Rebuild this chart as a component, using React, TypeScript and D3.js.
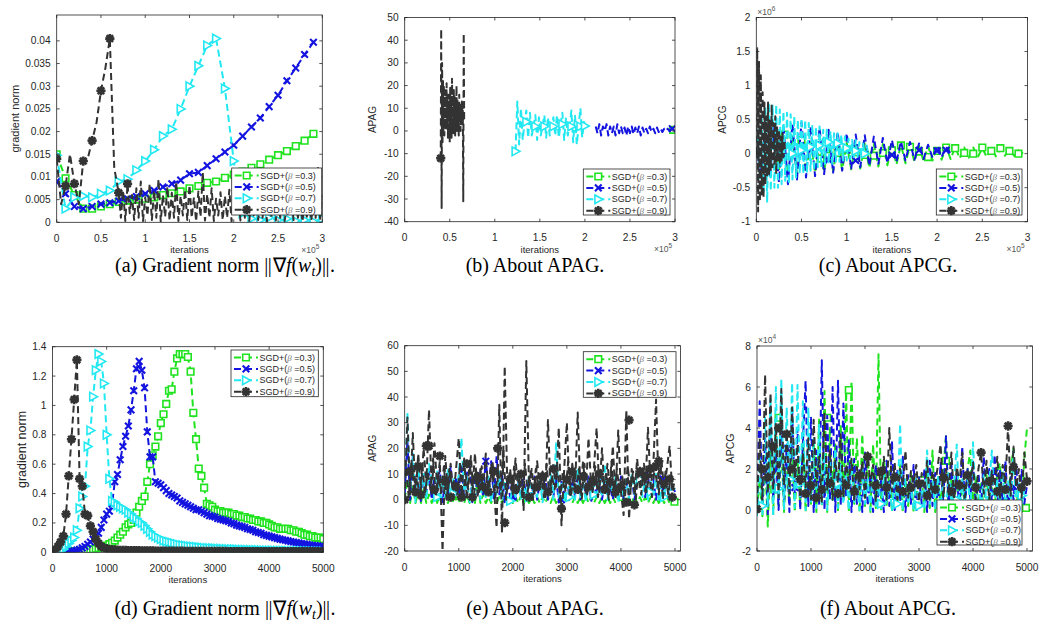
import { useEffect, useRef } from 'react';
import * as d3 from 'd3';

const W = 1039;
const H = 626;

// ---------- data ----------
const betaLabels = ['0.3', '0.5', '0.7', '0.9'];

// tick labels
const xTicksTop = [0, 0.5, 1, 1.5, 2, 2.5, 3];
const xTicksBottom = [0, 1000, 2000, 3000, 4000, 5000];
const aYTicks = [0, 0.005, 0.01, 0.015, 0.02, 0.025, 0.03, 0.035, 0.04];
const bYTicks = [-40, -30, -20, -10, 0, 10, 20, 30, 40, 50];
const cYTicks = [-1, -0.5, 0, 0.5, 1, 1.5, 2];
const dYTicks = [0, 0.2, 0.4, 0.6, 0.8, 1, 1.2, 1.4];
const eYTicks = [-20, -10, 0, 10, 20, 30, 40, 50, 60];
const fYTicks = [-2, 0, 2, 4, 6, 8];

// (a) gradient norm, iterations x1e5
const aGreen = [0.015, 0.0097, 0.006, 0.003, 0.003, 0.0035, 0.004, 0.0045, 0.0048, 0.005,
  0.0052, 0.0055, 0.006, 0.0064, 0.0068, 0.0075, 0.008, 0.0087, 0.009, 0.0098,
  0.0105, 0.0112, 0.012, 0.0128, 0.0138, 0.0148, 0.0157, 0.0168, 0.018, 0.0195];
const aBlue = [0.009, 0.0063, 0.0035, 0.003, 0.0035, 0.004, 0.0043, 0.0047, 0.0052, 0.0057,
  0.0063, 0.007, 0.0078, 0.0085, 0.0093, 0.0107, 0.011, 0.0125, 0.014, 0.0155,
  0.017, 0.019, 0.021, 0.023, 0.0255, 0.028, 0.0312, 0.034, 0.037, 0.0397];
const aCyan = [0.0148, 0.003, 0.0055, 0.0058, 0.0055, 0.0063, 0.007, 0.009, 0.0095, 0.0115,
  0.0135, 0.016, 0.019, 0.0205, 0.025, 0.03, 0.0345, 0.039, 0.0405, 0.0295,
  0.0135, 0.002, 0.0008, 0.0005, 0.001, 0.0005, 0.0008, 0.0003, 0.0005, 0.0002, 0.0008];
// beta = 0.9: first part every 0.05, noisy tail from 0.7 every 0.025
const aDark = [0.014, 0.004, 0.008, 0.015, 0.0085, 0.004, 0.0135, 0.014, 0.018, 0.022,
  0.029, 0.034, 0.0405, 0.012, 0.0065];
const aDarkTail = [0.0065, 0.001, 0.007, 0.0003, 0.0085, 0.002, 0.006, 0.0005, 0.0075, 0.001,
  0.009, 0.0003, 0.0055, 0.0015, 0.0085, 0.0005, 0.007, 0.001, 0.0095, 0.0002,
  0.006, 0.0012, 0.0078, 0.0004, 0.0065, 0.001, 0.009, 0.0003, 0.0058, 0.0015,
  0.0072, 0.0005, 0.0082, 0.001, 0.0055, 0.0002, 0.0068, 0.0012, 0.011, 0.0004,
  0.0062, 0.001, 0.0075, 0.0003, 0.0052, 0.0015, 0.0066, 0.0005, 0.0058, 0.001,
  0.0072, 0.0002, 0.0048, 0.0012, 0.0065, 0.0004, 0.0055, 0.001, 0.0062, 0.0003,
  0.0045, 0.0015, 0.006, 0.0005, 0.0042, 0.001, 0.0058, 0.0002, 0.0038, 0.0012,
  0.0108, 0.0004, 0.0045, 0.001, 0.0052, 0.0003, 0.004, 0.0015, 0.0055, 0.0005,
  0.0042, 0.001, 0.0048, 0.0002, 0.0038, 0.0012, 0.005, 0.0004, 0.0045, 0.001,
  0.0125, 0.0003, 0.006];
const aDarkMarks = [[0, 0.014], [0.1, 0.008], [0.2, 0.0085], [0.3, 0.0135], [0.4, 0.018],
  [0.5, 0.029], [0.6, 0.0405], [0.7, 0.0065], [0.8, 0.0085]];

// (b) APAG, iterations x1e5
const bGreen = [0.5, 0.3];
const bBlue = [2, -1, 3, -2, 2, 0, 3, -2, 2, -1,
  2, -2, 3, -1, 2, -1, 1.5, -2, 2, -1,
  2, -1.5, 1.5, -1, 2, -2, 1.5, -1, 1, -1,
  2, -0.5, 1, -1, 1.5, -0.5, 1, -0.5, 1, 0,
  1, 0, 1, 1];
const bCyan = [-9, 13, -6, 10, -4, 4, 9, -3, 8, -2,
  2, 7, -4, 6, -2, 2, 7, -3, 6, -2,
  2, 6, -2, 7, -3, 3, 8, -4, 6, -2,
  2, 9, -5, 7, -6, 2, 10, -3, 4, 2];
const bDark = [-12, 45, -34, 30, -5, 22, 0, 20, -2, 18,
  3, 17, 0, 21, 2, 15, -3, 16, 5, 12,
  -5, 19, 2, 14, -3, 23, 4, 13, -1, 18,
  3, 15, -2, 12, 4, 20, 0, 14, 3, 11,
  -2, 16, 5, 12, 0, 10, 4, 13, 2, 9,
  -31, 43, 5];
const bGreenMarks = [[2.98, 0.5]];
const bBlueMarks = [[2.97, 1]];
const bCyanMarks = [[1.23, -9], [1.35, 4], [1.45, 2], [1.55, 2], [1.65, 2], [1.75, 3], [1.85, 2], [1.95, 2], [2.0, 2.2]];
const bDarkMarks = [[0.4, -12]];

// (c) APCG x1e6, iterations x1e5
const cGreen = [0.05, -0.15, 0.2, -0.2, 0.25, -0.25, 0.28, -0.28, 0.25, -0.3,
  0.22, -0.28, 0.2, -0.28, 0.2, -0.27, 0.18, -0.26, 0.17, -0.24,
  0.16, -0.23, 0.15, -0.22, 0.15, -0.21, 0.14, -0.19, 0.14, -0.17,
  0.13, -0.16, 0.13, -0.14, 0.12, -0.12, 0.12, -0.11, 0.11, -0.1,
  0.11, -0.09, 0.1, -0.08, 0.1, -0.07, 0.09, -0.06, 0.09, -0.05,
  0.08, -0.05, 0.08, -0.04, 0.07, -0.03, 0.06, -0.03, 0.05, 0.0];
const cBlue = [0.1, -0.3, 0.35, -0.35, 0.4, -0.42, 0.42, -0.45, 0.45, -0.38,
  0.46, -0.35, 0.4, -0.33, 0.38, -0.3, 0.35, -0.28, 0.32, -0.25,
  0.3, -0.22, 0.28, -0.2, 0.27, -0.18, 0.25, -0.15, 0.23, -0.14,
  0.2, -0.12, 0.18, -0.1, 0.17, -0.09, 0.15, -0.08, 0.13, -0.06,
  0.12, -0.05, 0.1, 0.0];
const cCyan = [0.0, 0.35, -0.4, 0.55, -0.6, 0.7, -0.72, 0.75, -0.55, 0.72,
  -0.5, 0.72, -0.5, 0.65, -0.45, 0.62, -0.4, 0.6, -0.45, 0.58,
  -0.38, 0.55, -0.35, 0.5, -0.3, 0.52, -0.3, 0.5, -0.28, 0.45,
  -0.25, 0.42, -0.25, 0.4, -0.2, 0.4, -0.2, 0.35, -0.15, 0.35,
  -0.15, 0.33, -0.15, 0.3, -0.12, 0.3, -0.12, 0.28, -0.1, 0.25,
  -0.1, 0.22, -0.08, 0.2, -0.08, 0.2, -0.05, 0.17, -0.05, 0.15,
  -0.03, 0.12, 0.0];
const cDark = [0, 1.55, -0.85, 1.35, -0.7, 1.15, -0.6, 0.9, -0.65, 0.75,
  -0.45, 0.55, -0.35, 0.75, -0.3, 0.5, -0.25, 0.72, -0.2, 0.45,
  -0.15, 0.55, -0.3, 0.4, -0.1, 0.35, -0.15, 0.25, -0.1, 0.3,
  -0.05, 0.2, 0];
const cGreenMarks = [[0.31, 0.28], [0.5, 0.2], [0.71, -0.07], [0.8, -0.03], [0.9, 0.01], [1.0, 0.06],
  [1.1, 0.02], [1.2, -0.02], [1.3, -0.03], [1.4, 0.01], [1.5, 0.05], [1.6, 0.12], [1.7, 0.1],
  [1.8, 0.03], [1.9, -0.05], [2.0, 0.04], [2.1, 0.09], [2.2, 0.08], [2.3, 0.01], [2.4, 0.0],
  [2.5, 0.09], [2.6, 0.04], [2.7, 0.08], [2.8, 0.04], [2.9, 0.0]];
const cBlueMarks = [[0.3, -0.05], [0.5, 0.0], [0.6, 0.05], [0.8, -0.09], [1.1, -0.1], [1.5, -0.02],
  [1.8, 0.05], [2.0, 0.04], [2.1, 0.05]];
const cCyanMarks = [[0.05, 0.0], [0.2, 0.02], [0.3, 0.1], [0.4, 0.0], [0.5, 0.05], [0.6, 0.1],
  [0.7, 0.12], [0.8, 0.17], [0.9, 0.15], [1.0, 0.08], [1.1, 0.04], [1.2, 0.0]];
const cDarkMarks = [[0, 0]];

// (d) gradient norm, every 50 iterations from 0 to 5000
const dGreen = [0, 0, 0, 0, 0, 0.002, 0.003, 0.004, 0.005, 0.006,
  0.008, 0.01, 0.012, 0.015, 0.018, 0.02, 0.025, 0.03, 0.035, 0.04,
  0.045, 0.055, 0.065, 0.08, 0.1, 0.12, 0.14, 0.17, 0.19, 0.2,
  0.22, 0.27, 0.31, 0.35, 0.38, 0.48, 0.6, 0.66, 0.72, 0.79,
  0.88, 0.94, 1.01, 1.1, 1.11, 1.23, 1.32, 1.35, 1.35, 1.35,
  1.33, 1.23, 0.95, 0.77, 0.57, 0.52, 0.44, 0.33, 0.32, 0.31,
  0.29, 0.28, 0.28, 0.27, 0.27, 0.27, 0.26, 0.26, 0.25, 0.25,
  0.24, 0.24, 0.23, 0.23, 0.22, 0.22, 0.21, 0.21, 0.2, 0.2,
  0.19, 0.18, 0.17, 0.17, 0.16, 0.16, 0.16, 0.16, 0.15, 0.15,
  0.14, 0.14, 0.13, 0.12, 0.12, 0.11, 0.11, 0.1, 0.1, 0.1,
  0.09];
const dBlue = [0, 0, 0, 0, 0.002, 0.004, 0.006, 0.008, 0.01, 0.015,
  0.02, 0.03, 0.04, 0.055, 0.07, 0.09, 0.11, 0.13, 0.17, 0.22,
  0.26, 0.28, 0.33, 0.48, 0.53, 0.63, 0.72, 0.79, 0.86, 0.97,
  1.1, 1.25, 1.3, 1.24, 1.12, 0.82, 0.65, 0.65, 0.48, 0.47,
  0.46, 0.44, 0.42, 0.4, 0.39, 0.38, 0.37, 0.35, 0.34, 0.33,
  0.32, 0.31, 0.3, 0.29, 0.29, 0.28, 0.27, 0.26, 0.25, 0.245,
  0.24, 0.23, 0.225, 0.22, 0.215, 0.21, 0.2, 0.195, 0.185, 0.18,
  0.175, 0.17, 0.16, 0.155, 0.15, 0.14, 0.135, 0.13, 0.12, 0.115,
  0.11, 0.105, 0.1, 0.095, 0.09, 0.085, 0.082, 0.078, 0.074, 0.07,
  0.066, 0.063, 0.06, 0.057, 0.054, 0.05, 0.048, 0.046, 0.044, 0.042,
  0.04];
const dCyan = [0, 0, 0.005, 0.01, 0.02, 0.04, 0.06, 0.08, 0.1, 0.15,
  0.3, 0.38, 0.45, 0.72, 0.83, 1.06, 1.24, 1.35, 1.3, 1.15,
  0.8, 0.5, 0.35, 0.34, 0.32, 0.31, 0.3, 0.29, 0.27, 0.26,
  0.24, 0.23, 0.21, 0.2, 0.18, 0.16, 0.14, 0.12, 0.11, 0.1,
  0.09, 0.08, 0.075, 0.07, 0.065, 0.06, 0.055, 0.05, 0.048, 0.045,
  0.042, 0.04, 0.038, 0.036, 0.034, 0.032, 0.03, 0.029, 0.028, 0.027,
  0.026, 0.025, 0.024, 0.023, 0.022, 0.021, 0.02, 0.02, 0.019, 0.018,
  0.018, 0.017, 0.016, 0.016, 0.015, 0.015, 0.014, 0.014, 0.013, 0.013,
  0.012, 0.012, 0.011, 0.011, 0.01, 0.01, 0.01, 0.009, 0.009, 0.009,
  0.008, 0.008, 0.008, 0.007, 0.007, 0.007, 0.006, 0.006, 0.006, 0.005,
  0.005];
const dDark = [0.01, 0.015, 0.04, 0.07, 0.11, 0.26, 0.52, 0.77, 1.04, 1.31,
  0.5, 0.45, 0.26, 0.25, 0.18, 0.14, 0.09, 0.06, 0.04, 0.03,
  0.025, 0.02, 0.018, 0.016, 0.015, 0.014, 0.013, 0.013, 0.012, 0.012,
  0.011, 0.011, 0.011, 0.01, 0.01, 0.01, 0.01, 0.01, 0.009, 0.009,
  0.009, 0.009, 0.009, 0.008, 0.008, 0.008, 0.008, 0.008, 0.008, 0.007,
  0.007, 0.007, 0.007, 0.007, 0.007, 0.007, 0.006, 0.006, 0.006, 0.006,
  0.006, 0.006, 0.006, 0.006, 0.006, 0.005, 0.005, 0.005, 0.005, 0.005,
  0.005, 0.005, 0.005, 0.005, 0.005, 0.005, 0.005, 0.005, 0.004, 0.004,
  0.004, 0.004, 0.004, 0.004, 0.004, 0.004, 0.004, 0.004, 0.004, 0.004,
  0.004, 0.004, 0.004, 0.004, 0.004, 0.004, 0.004, 0.004, 0.004, 0.004,
  0.004];

// (e) APAG, every 50 iterations
const eGreen = [0, 8, -1.3, 5, -1.3, 3, -1.3, 4, -1.3, 2,
  -1.3, 3, -1.3, 2, -1.3, 1, -1.3, 2, -1.3, 1,
  -1.3, 3, -1.3, 2, -1.3, 4, -1.3, 8.3, -1.3, 2,
  -1.3, 1, -1.3, 2, -1.3, 1, -1.3, 1, -1.3, 1,
  -1.3, 1, -1.3, 1.5, -1.3, 1, -1.3, 1, -1.3, 1,
  -1.3, 1, -1.3, 1, -1.3, 1.5, -1.3, 1, -1.3, 1,
  -1.3, 1, -1.3, 1, -1.3, 1, -1.3, 1.5, -1.3, 1,
  -1.3, 1, -1.3, 1, -1.3, 1, -1.3, 1, -1.3, 1,
  -1.3, 1, -1.3, 1, -1.3, 1.5, -1.3, 1, -1.3, 1,
  -1.3, 1, -1.3, 1, -1.3, 1, -1.3, 1, -1.3, 1,
  -0.8];
const eBlue = [2, 23, 0, 17, 3, 12, -1, 10, 2, 11,
  0, 9, 3, 12, -1, 8, 2, 13, 0, 9,
  3, 14, 0, 10, 15, -1, 9, 2, 11, 1,
  16, 3, 15, 0, 17, 2, 10, -1, 8, 1,
  9, 0, 7, 2, 10, -1, 8, 1, 9, 0,
  7, 2, 10, 0, 8, 1, 9, -1, 7, 2,
  9, 0, 8, 1, 10, 0, 7, 2, 9, -1,
  8, 1, 10, 0, 7, 2, 5, 0, 8, 1,
  9, 0, 7, 2, 9, 0, 8, 11, 10, 1,
  9, 2, 8, 0, 9, 8, 1, 7, 0, 6,
  3];
const eCyan = [0, 34, 2, 18, -1, 12, 3, 10, 0, 14,
  8, 4, 11, -1, 9, 1, 12, 0, 8, 2,
  10, 24, 1, 9, -1, 6, 2, 10, 0, 7,
  1, 9, -1, 6, 2, 11, 0, 7, 1, -1,
  6, 1, 8, 0, 5, 2, 9, 0, 6, 1,
  8, -1, 5, 2, 10, 0, 22, 1, 7, -1,
  9, 2, 6, 0, 12, 1, 7, -1, 8, 2,
  6, 0, 9, 1, 14, 0, 7, 2, 9, -1,
  6, 1, 8, 0, 10, 2, 12, 8, 1, 9,
  0, 7, 2, 10, -1, 6, 1, 8, 0, 6,
  4];
// beta = 0.9 band values between the sampled spikes (offset by 25 iterations)
const eDarkBand = [12, 1, 15, 3, 10, 0, 14, 2, 11, 4,
  16, 1, 9, 3, 13, 0, 12, 5, 8, 2,
  14, 1, 10, 4, 17, 0, 11, 3, 13, 2,
  9, 5, 15, 1, 12, 3, 20, 0, 10, 4,
  13, 2, 9, 1, 14, 3, 11, 0, 12, 5,
  10, 1, 14, 2, 9, 4, 13, 0, 11, 3,
  15, 1, 10, 4, 12, 0, 14, 2, 9, 3,
  13, 1, 11, 5, 10, 0, 15, 2, 12, 3,
  9, 1, 13, 4, 11, 0, 12, 2, 14, 3,
  10, 1, 13, 5, 15, 0, 11, 2, 9, 4,
  6];
const eDark = [0, 32, 2, 26, 1, 18, 4, 20, 6, 35,
  2, 22, 5, 15, -20, 17, 3, 14, 1, 12,
  24, 2, 16, 0, 15, 3, 18, 1, 12, 4,
  18, 2, 14, 5, -11, 37, -13, 52, 4, 12,
  2, 16, 3, 11, -4, 54, 5, 12, 2, 15,
  4, 11, 1, 31, 3, 13, 5, 28, -10, 12,
  30, 2, 14, 3, 34, 4, 15, 2, 24, 5,
  12, 28, 3, 20, 2, 14, 4, 21, 1, 27,
  3, -6, 35, -7.5, 12, 2, 16, 4, 13, 3,
  28, 5, 14, 39, 2, 15, 4, 12, 21, 3,
  8];
const eGreenMarks = [[1350, 8.3], [4990, -0.8]];
const eBlueMarks = [[1000, 3], [1500, 15], [2000, 1], [2900, 0], [3800, 5], [4450, 10], [4780, 8]];
const eCyanMarks = [[400, 8], [600, 1], [900, 2.5], [1300, 3], [1950, -0.5], [2300, 1], [2600, 2.5],
  [3050, 1], [3500, 2], [4350, 8], [4550, 3], [4800, 1]];
const eDarkMarks = [[0, 0], [100, 11], [200, 3], [250, 13], [300, 2], [400, 21], [450, 21], [550, 4],
  [650, 17], [750, 7], [850, 1], [950, 5], [1050, 1], [1150, 14], [1250, 1], [1350, 9], [1450, 5],
  [1550, 3], [1650, 11], [1720, 20], [1850, -9], [1950, 8], [2050, 4], [2150, 10], [2300, 1],
  [2450, 5], [2550, 9], [2650, 3], [2750, 12], [2900, -3.5], [3000, 8], [3100, 11], [3200, 4],
  [3300, 9], [3400, 5], [3500, 7], [3600, 10], [3700, 4], [3800, 7], [3900, 3], [4000, 5],
  [4100, -1], [4150, 31], [4250, -2], [4350, 11], [4450, 9], [4550, 12], [4650, 13], [4700, 15],
  [4800, 6], [4900, 8], [4950, 1]];

// (f) APCG x1e4, every 50 iterations
const fGreen = [0, 1.5, -0.3, 2.5, -0.8, 3.0, -0.2, 4.5, 0.2, 3.2,
  -0.1, 2.2, 0.3, 3.0, -0.1, 2.5, 0.2, 3.8, -0.1, 2.0,
  0.3, 3.4, -0.1, 4.5, 0.2, 5.8, -0.1, 4.0, 0.5, 3.2,
  -0.1, 4.2, 0.4, 5.8, -0.1, 6.3, 0.3, 3.5, -0.1, 3.7,
  0.2, 2.8, -0.1, 3.2, 0.1, 7.6, -0.1, 2.5, 0.2, 1.9,
  -0.1, 1.6, 0.2, 2.2, -0.1, 1.5, 0.2, 1.8, -0.1, 1.3,
  0.2, 1.6, -0.1, 2.2, 0.1, 2.9, -0.1, 1.4, 0.2, 2.0,
  3.6, -0.1, 1.5, 0.2, 1.8, -0.1, 1.3, 0.2, 2.0, 2.9,
  -0.1, 1.6, 0.2, 1.4, -0.1, 1.7, 0.2, 1.2, -0.1, 1.9,
  2.3, 0.1, 1.5, -0.1, 2.0, 3.0, 0.1, 1.2, -0.1, 2.5,
  4.0];
const fBlue = [0.3, 5.3, 0.1, 3.5, -0.2, 4.8, 0.5, 2.8, 0.0, 4.2,
  0.4, 3.2, -0.1, 5.0, 0.6, 4.0, 0.0, 3.3, 6.3, 0.2,
  4.5, -0.1, 2.9, 0.3, 7.3, 0.0, 4.6, 0.5, 6.0, -0.1,
  6.3, 0.2, 5.2, 0.6, 3.4, -0.1, 2.5, 0.3, 2.0, -0.1,
  2.8, 0.2, 1.8, -0.1, 2.2, 0.3, 1.5, -0.1, 2.4, 0.2,
  3.3, 0.0, 2.0, 0.4, 2.6, -0.1, 1.7, 0.3, 2.2, -0.1,
  1.6, 0.3, 2.0, -0.1, 2.4, 0.2, 1.8, 0.0, 2.3, 0.4,
  3.6, 0.0, 2.2, 0.3, 1.7, -0.1, 3.1, 0.2, 2.0, 0.5,
  2.4, 0.0, 1.8, 0.3, 2.6, 0.0, 2.0, 0.4, 2.7, 0.1,
  1.9, 0.3, 2.4, 0.0, 1.6, 0.5, 2.2, 0.1, 1.95, 0.3,
  1.2];
const fCyan = [-0.3, 2.5, -0.2, 4.5, 0.2, 5.5, -0.3, 6.0, 0.5, 6.4,
  0.0, 5.0, 0.8, 6.2, 0.1, 6.1, 0.6, 5.3, 0.0, 5.0,
  0.4, 3.5, 0.1, 4.2, 0.3, 2.8, 0.0, 2.4, 0.5, 3.0,
  0.1, 2.2, 0.3, 1.8, 0.0, 2.4, 0.4, 1.6, 0.0, 2.0,
  0.3, 1.5, 0.0, 1.9, 0.2, 1.4, 0.0, 1.7, 0.3, 1.3,
  0.0, 1.8, 0.2, 4.2, 0.0, 1.5, 0.3, 1.2, 0.0, 1.6,
  0.2, 1.3, 0.0, 2.9, 0.3, 1.4, 0.0, 1.7, 0.2, 1.2,
  0.0, 1.8, 0.3, 1.3, 3.2, 0.0, 1.5, 0.2, 1.8, 0.0,
  3.3, 0.3, 1.4, 0.0, 1.7, 0.2, 1.3, 2.9, 0.0, 1.5,
  0.3, 1.9, 0.0, 1.4, 0.2, 2.9, 0.0, 1.3, 0.3, 1.0,
  0.7];
const fDark = [0.3, 3.5, 0.5, 6.6, 0.8, 5.7, 1.0, 4.2, 0.6, 5.9,
  1.2, 3.8, 0.8, 5.0, 1.5, 3.2, 0.6, 2.8, 1.1, 3.5,
  0.5, 4.4, 1.2, 2.6, 0.4, 4.7, 1.0, 2.9, 0.5, 2.4,
  1.3, 3.7, 0.6, 2.2, 1.4, 2.5, 0.5, 2.1, 1.0, 2.4,
  0.6, 2.8, 1.2, 2.2, 0.4, 2.0, 1.1, 2.6, 0.5, 4.0,
  0.9, 2.3, 0.5, 2.0, 1.2, 2.9, 0.6, 1.9, 1.3, 2.2,
  0.4, 1.8, 1.0, 2.4, 0.5, 1.9, 1.2, 2.2, 3.2, 0.6,
  2.0, 1.0, 2.8, 0.5, 2.1, 1.3, 2.8, 0.6, 1.8, 1.1,
  2.3, 0.5, 2.0, 2.8, 0.8, 2.4, 0.5, 1.9, 1.2, 2.6,
  0.6, 2.2, 1.3, 4.1, 0.7, 3.1, 1.1, 2.0, 0.6, 2.8,
  1.5];
const fGreenMarks = [[320, 1.0], [400, 4.5], [1300, 4.5], [1330, 1.7], [1700, 5.85], [3060, 1.45],
  [3500, 2.4], [4980, 0.1]];
const fBlueMarks = [[560, 3.0], [700, 1.1], [1000, 1.5], [2600, 1.2], [3800, 1.1], [4400, 1.8], [4750, 1.15]];
const fCyanMarks = [[100, 0.2], [400, 1.05], [620, 1.5], [800, 1.3], [1500, 1.3], [2300, 0.3], [2600, 0.3],
  [3000, 0.2], [3700, 0.5], [4300, 0.8], [4900, 0.7]];
const fDarkMarks = [[0, 0.05], [100, 2.0], [200, 1.6], [300, 3.1], [400, 4.0], [550, 3.7], [650, 2.0],
  [800, 1.5], [900, 0.8], [1000, 1.2], [1100, 0.6], [1200, 1.0], [1350, 1.3], [1500, 0.8],
  [1650, 1.2], [1800, 0.9], [1900, 1.7], [2050, 2.6], [2200, 1.2], [2300, 1.9], [2400, 1.1],
  [2550, 1.6], [2700, 0.9], [2850, 1.1], [3000, 1.3], [3150, 0.7], [3300, 1.0], [3450, 1.6],
  [3600, 0.9], [3750, 1.2], [3900, 1.7], [4050, 1.1], [4150, 2.8], [4300, 1.4], [4450, 0.9],
  [4600, 1.0], [4650, 4.1], [4750, 2.1], [4900, 1.1], [5000, 1.4]];

// ---------- styles ----------
const GREEN = '#1ee31e';
const BLUE = '#1414e0';
const CYAN = '#22e8f2';
const DARK = '#333333';
const AXIS = '#262626';
const SANS = '"Liberation Sans", Arial, Helvetica, sans-serif';
const SERIF = '"Liberation Serif", "Times New Roman", serif';

type MarkType = 'square' | 'x' | 'tri' | 'star';
interface Series {
  start: number;
  step: number;
  values: number[];
  color: string;
  mark: MarkType;
  marks?: number[][];
  extra?: boolean; // continuation of the series above, no legend entry
}

const sq = (start: number, step: number, values: number[], marks?: number[][]): Series =>
  ({ start, step, values, color: GREEN, mark: 'square', marks });
const bx = (start: number, step: number, values: number[], marks?: number[][]): Series =>
  ({ start, step, values, color: BLUE, mark: 'x', marks });
const cy = (start: number, step: number, values: number[], marks?: number[][]): Series =>
  ({ start, step, values, color: CYAN, mark: 'tri', marks });
const dk = (start: number, step: number, values: number[], marks?: number[][]): Series =>
  ({ start, step, values, color: DARK, mark: 'star', marks });
const dkExtra = (start: number, step: number, values: number[]): Series =>
  ({ start, step, values, color: DARK, mark: 'star', marks: [], extra: true });

const panels = [
  {
    id: 'a', box: [56.7, 15, 322.3, 222.3], xDomain: [0, 3], yDomain: [0, 0.0457],
    xTicks: xTicksTop, yTicks: aYTicks, yLabel: 'gradient norm', yLabelX: 15, yLabelSize: 11,
    xExp: '5', yExp: '', legend: [231.7, 168, 90, 47], cap: 'a', capX: 225, capY: 272,
    series: [sq(0, 0.1, aGreen), bx(0, 0.1, aBlue), cy(0, 0.1, aCyan),
      dkExtra(0.7, 0.025, aDarkTail), dk(0, 0.05, aDark, aDarkMarks)],
  },
  {
    id: 'b', box: [404.7, 17.5, 675, 221.7], xDomain: [0, 3], yDomain: [-40, 50],
    xTicks: xTicksTop, yTicks: bYTicks, yLabel: 'APAG', yLabelX: 372.7, yLabelSize: 10,
    xExp: '5', yExp: '', legend: [583.3, 169, 86.7, 46], cap: 'b', capX: 535, capY: 272,
    series: [sq(2.98, 0.02, bGreen, bGreenMarks), bx(2.12, 0.02, bBlue, bBlueMarks),
      cy(1.23, 0.02, bCyan, bCyanMarks), dk(0.4, 0.005, bDark, bDarkMarks)],
  },
  {
    id: 'c', box: [756.3, 17.5, 1027.5, 221.7], xDomain: [0, 3], yDomain: [-1, 2],
    xTicks: xTicksTop, yTicks: cYTicks, yLabel: 'APCG', yLabelX: 722, yLabelSize: 10,
    xExp: '5', yExp: '6', legend: [936.3, 169, 85.7, 46], cap: 'c', capX: 888, capY: 272,
    series: [sq(0, 0.05, cGreen, cGreenMarks), bx(0, 0.05, cBlue, cBlueMarks),
      cy(0, 0.02, cCyan, cCyanMarks), dk(0, 0.01, cDark, cDarkMarks)],
  },
  {
    id: 'd', box: [52.5, 346.7, 323.3, 552.3], xDomain: [0, 5000], yDomain: [0, 1.4],
    xTicks: xTicksBottom, yTicks: dYTicks, yLabel: 'gradient norm', yLabelX: 21.7, yLabelSize: 12.5,
    xExp: '', yExp: '', legend: [231, 350, 87.3, 46.7], cap: 'd', capX: 225, capY: 615,
    series: [sq(0, 50, dGreen), bx(0, 50, dBlue), cy(0, 50, dCyan), dk(0, 50, dDark)],
  },
  {
    id: 'e', box: [404.7, 345.7, 680.4, 551], xDomain: [0, 5100], yDomain: [-20, 60],
    xTicks: xTicksBottom, yTicks: eYTicks, yLabel: 'APAG', yLabelX: 372.7, yLabelSize: 10,
    xExp: '', yExp: '', legend: [583.3, 351.7, 92.7, 45.6], cap: 'e', capX: 535, capY: 615,
    series: [sq(0, 50, eGreen, eGreenMarks), bx(0, 50, eBlue, eBlueMarks),
      cy(0, 50, eCyan, eCyanMarks), dkExtra(25, 50, eDarkBand), dk(0, 50, eDark, eDarkMarks)],
  },
  {
    id: 'f', box: [757, 346, 1032.4, 551], xDomain: [0, 5100], yDomain: [-2, 8],
    xTicks: xTicksBottom, yTicks: fYTicks, yLabel: 'APCG', yLabelX: 729.7, yLabelSize: 10.5,
    xExp: '', yExp: '4', legend: [937, 500, 85, 45], cap: 'f', capX: 888, capY: 615,
    series: [sq(0, 50, fGreen, fGreenMarks), bx(0, 50, fBlue, fBlueMarks),
      cy(0, 50, fCyan, fCyanMarks), dk(0, 50, fDark, fDarkMarks)],
  },
];

const captionKind: Record<string, string> = { a: 'norm', b: 'APAG', c: 'APCG', d: 'norm', e: 'APAG', f: 'APCG' };

function markerPath(type: MarkType): string {
  if (type === 'square') return 'M-3.3,-3.3H3.3V3.3H-3.3Z';
  if (type === 'x') return 'M-3.3,-3.3L3.3,3.3M-3.3,3.3L3.3,-3.3';
  if (type === 'tri') return 'M-3.4,-4.3L4.4,0L-3.4,4.3Z';
  return 'M0,-4.6V4.6M-4.6,0H4.6M-3.3,-3.3L3.3,3.3M-3.3,3.3L3.3,-3.3';
}

function drawMarker(g: any, type: MarkType, cx: number, cy0: number, color: string) {
  const filled = type === 'square' || type === 'tri';
  g.append('path')
    .attr('d', markerPath(type))
    .attr('transform', `translate(${cx},${cy0})`)
    .attr('fill', filled ? '#fff' : 'none')
    .attr('stroke', color)
    .attr('stroke-width', type === 'star' ? 2.6 : type === 'x' ? 2.1 : 1.6)
    .attr('stroke-linecap', 'butt');
}

function drawPanel(svg: any, defs: any, p: any) {
  const [l, t, r, b] = p.box;
  const x = d3.scaleLinear().domain(p.xDomain).range([l, r]);
  const y = d3.scaleLinear().domain(p.yDomain).range([b, t]);
  const g = svg.append('g');

  defs.append('clipPath').attr('id', `clip-${p.id}`)
    .append('rect').attr('x', l).attr('y', t).attr('width', r - l).attr('height', b - t);
  const plot = g.append('g').attr('clip-path', `url(#clip-${p.id})`);

  const line = d3.line<number[]>().x(d => x(d[0])).y(d => y(d[1]));
  p.series.forEach((s: Series) => {
    const pts = s.values.map((v, i) => [s.start + i * s.step, v]);
    plot.append('path')
      .attr('d', line(pts))
      .attr('fill', 'none')
      .attr('stroke', s.color)
      .attr('stroke-width', 2)
      .attr('stroke-dasharray', '7,4')
      .attr('stroke-linejoin', 'round');
    (s.marks ?? pts).forEach(m => drawMarker(plot, s.mark, x(m[0]), y(m[1]), s.color));
  });

  // box + ticks
  g.append('rect').attr('x', l).attr('y', t).attr('width', r - l).attr('height', b - t)
    .attr('fill', 'none').attr('stroke', AXIS).attr('stroke-width', 0.8);
  const tk = 3;
  p.xTicks.forEach((v: number) => {
    const px = x(v);
    g.append('line').attr('x1', px).attr('x2', px).attr('y1', b).attr('y2', b - tk).attr('stroke', AXIS).attr('stroke-width', 0.8);
    g.append('line').attr('x1', px).attr('x2', px).attr('y1', t).attr('y2', t + tk).attr('stroke', AXIS).attr('stroke-width', 0.8);
    g.append('text').attr('x', px).attr('y', b + 16).attr('text-anchor', 'middle').attr('dominant-baseline', 'central')
      .attr('font-family', SANS).attr('font-size', 10.2).attr('fill', AXIS).text(String(v));
  });
  p.yTicks.forEach((v: number) => {
    const py = y(v);
    g.append('line').attr('x1', l).attr('x2', l + tk).attr('y1', py).attr('y2', py).attr('stroke', AXIS).attr('stroke-width', 0.8);
    g.append('line').attr('x1', r).attr('x2', r - tk).attr('y1', py).attr('y2', py).attr('stroke', AXIS).attr('stroke-width', 0.8);
    g.append('text').attr('x', l - 6).attr('y', py).attr('text-anchor', 'end').attr('dominant-baseline', 'central')
      .attr('font-family', SANS).attr('font-size', 10.2).attr('fill', AXIS).text(String(v));
  });

  // axis labels
  g.append('text').attr('x', (l + r) / 2).attr('y', b + 27.5).attr('text-anchor', 'middle').attr('dominant-baseline', 'central')
    .attr('font-family', SANS).attr('font-size', 9.5).attr('fill', AXIS).text('iterations');
  g.append('text').attr('transform', `translate(${p.yLabelX},${(t + b) / 2}) rotate(-90)`)
    .attr('text-anchor', 'middle').attr('dominant-baseline', 'central')
    .attr('font-family', SANS).attr('font-size', p.yLabelSize).attr('fill', AXIS).text(p.yLabel);

  const expText = (tx: number, ty: number, anchor: string, e: string) => {
    const te = g.append('text').attr('x', tx).attr('y', ty).attr('text-anchor', anchor)
      .attr('font-family', SANS).attr('font-size', 8.5).attr('fill', '#555');
    te.append('tspan').text('\u00d710');
    te.append('tspan').attr('dy', -4).attr('font-size', 6.5).text(e);
  };
  if (p.xExp) expText(r - 3, b + 30.5, 'end', p.xExp);
  if (p.yExp) expText(l + 1, t - 3, 'start', p.yExp);

  // legend
  const [lx, ly, lw, lh] = p.legend;
  const lg = g.append('g');
  lg.append('rect').attr('x', lx).attr('y', ly).attr('width', lw).attr('height', lh)
    .attr('fill', '#fff').attr('stroke', AXIS).attr('stroke-width', 0.8);
  p.series.filter((s: Series) => !s.extra).forEach((s: Series, i: number) => {
    const ry = ly + 7.5 + i * 11.4;
    lg.append('line').attr('x1', lx + 3).attr('x2', lx + 27).attr('y1', ry).attr('y2', ry)
      .attr('stroke', s.color).attr('stroke-width', 2).attr('stroke-dasharray', '7,4');
    drawMarker(lg, s.mark, lx + 15, ry, s.color);
    const te = lg.append('text').attr('x', lx + 28.5).attr('y', ry).attr('dominant-baseline', 'central')
      .attr('font-family', SANS).attr('font-size', 9).attr('fill', AXIS);
    te.append('tspan').text('SGD+(');
    te.append('tspan').attr('font-family', SERIF).attr('font-style', 'italic').attr('fill', '#777').text('\u03b2');
    te.append('tspan').text(` =${betaLabels[i]})`);
  });

  // caption
  const cap = svg.append('text').attr('x', p.capX).attr('y', p.capY).attr('text-anchor', 'middle')
    .attr('font-family', SERIF).attr('font-size', 20).attr('fill', '#000');
  const kind = captionKind[p.cap];
  if (kind === 'norm') {
    cap.append('tspan').text(`(${p.cap}) Gradient norm `);
    cap.append('tspan').attr('letter-spacing', -0.5).text('||');
    cap.append('tspan').attr('dx', 1.5).text('\u2207');
    cap.append('tspan').attr('font-style', 'italic').text('f');
    cap.append('tspan').text('(');
    cap.append('tspan').attr('font-style', 'italic').text('w');
    cap.append('tspan').attr('font-style', 'italic').attr('font-size', 14).attr('dy', 4).text('t');
    cap.append('tspan').attr('dy', -4).text(')');
    cap.append('tspan').attr('letter-spacing', -0.5).text('||');
    cap.append('tspan').attr('dx', 1).text('.');
  } else {
    cap.append('tspan').text(`(${p.cap}) About ${kind}.`);
  }
}

export default function App() {
  const ref = useRef<SVGSVGElement>(null);

  useEffect(() => {
    const svg = d3.select(ref.current);
    svg.selectAll('*').remove();
    svg.append('rect').attr('width', W).attr('height', H).attr('fill', '#fff');
    const defs = svg.append('defs');
    panels.forEach(p => drawPanel(svg, defs, p));
  }, []);

  return (
    <svg ref={ref} width={W} height={H}
      style={{ position: 'absolute', left: 0, top: 0, display: 'block', background: '#fff' }} />
  );
}
